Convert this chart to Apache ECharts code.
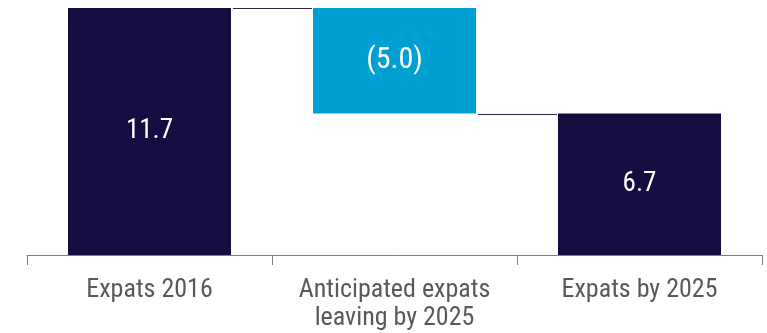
<!DOCTYPE html>
<html><head><meta charset="utf-8">
<script src="https://cdn.jsdelivr.net/npm/echarts@6/dist/echarts.min.js"></script>
<style>html,body{margin:0;padding:0;background:#fff}#c{width:767px;height:333px}</style>
</head><body><div id="c"></div>
<script>
const categories = ['Expats 2016', 'Anticipated expats\nleaving by 2025', 'Expats by 2025'];
const baseValues = [0, 6.7, 0];
const barValues = [11.7, 5.0, 6.7];
const barLabels = ['11.7', '(5.0)', '6.7'];
const connectorLevels = [11.7, 6.7];

const DARK = '#140E40', BLUE = '#00A0D2';
const FONT = '"Roboto Condensed","Liberation Sans Narrow",Roboto,sans-serif';
const BW = 163;

const chart = echarts.init(document.getElementById('c'), null, {renderer: 'canvas'});
chart.setOption({
  animation: false,
  grid: {left: 27, right: 5, top: 8, bottom: 78, containLabel: false},
  xAxis: {
    type: 'category', data: categories,
    axisLine: {lineStyle: {color: '#7f7f7f', width: 1}},
    axisTick: {show: true, length: 10, lineStyle: {color: '#7f7f7f'}},
    axisLabel: {color: '#595959', fontSize: 26, fontFamily: FONT, lineHeight: 28, margin: 21, interval: 0}
  },
  yAxis: {type: 'value', min: 0, max: 11.7, show: false, splitLine: {show: false}},
  series: [
    {type: 'bar', stack: 'w', data: baseValues, barWidth: BW, itemStyle: {color: 'transparent'}, silent: true},
    {type: 'bar', stack: 'w', barWidth: BW,
      data: barValues.map((v, i) => ({value: v, itemStyle: {color: i === 1 ? BLUE : DARK},
        label: {fontSize: i === 1 ? 30 : 27}})),
      label: {show: true, position: 'inside', color: '#fff', fontFamily: FONT,
        formatter: p => barLabels[p.dataIndex], fontSize: 27}
    },
    {type: 'custom', silent: true, z: 5,
      data: connectorLevels.map((v, i) => [i, v]),
      renderItem: (params, api) => {
        const i = api.value(0), lvl = api.value(1);
        const a = api.coord([i, lvl]);
        const b = api.coord([i + 1, lvl]);
        const y = Math.round(a[1]) + 0.5;
        return {type: 'line', shape: {x1: a[0] + BW / 2 + 2, y1: y, x2: b[0] - BW / 2 - 1, y2: y},
          style: {stroke: '#2a2553', lineWidth: 1}};
      }
    }
  ]
});
</script></body></html>
